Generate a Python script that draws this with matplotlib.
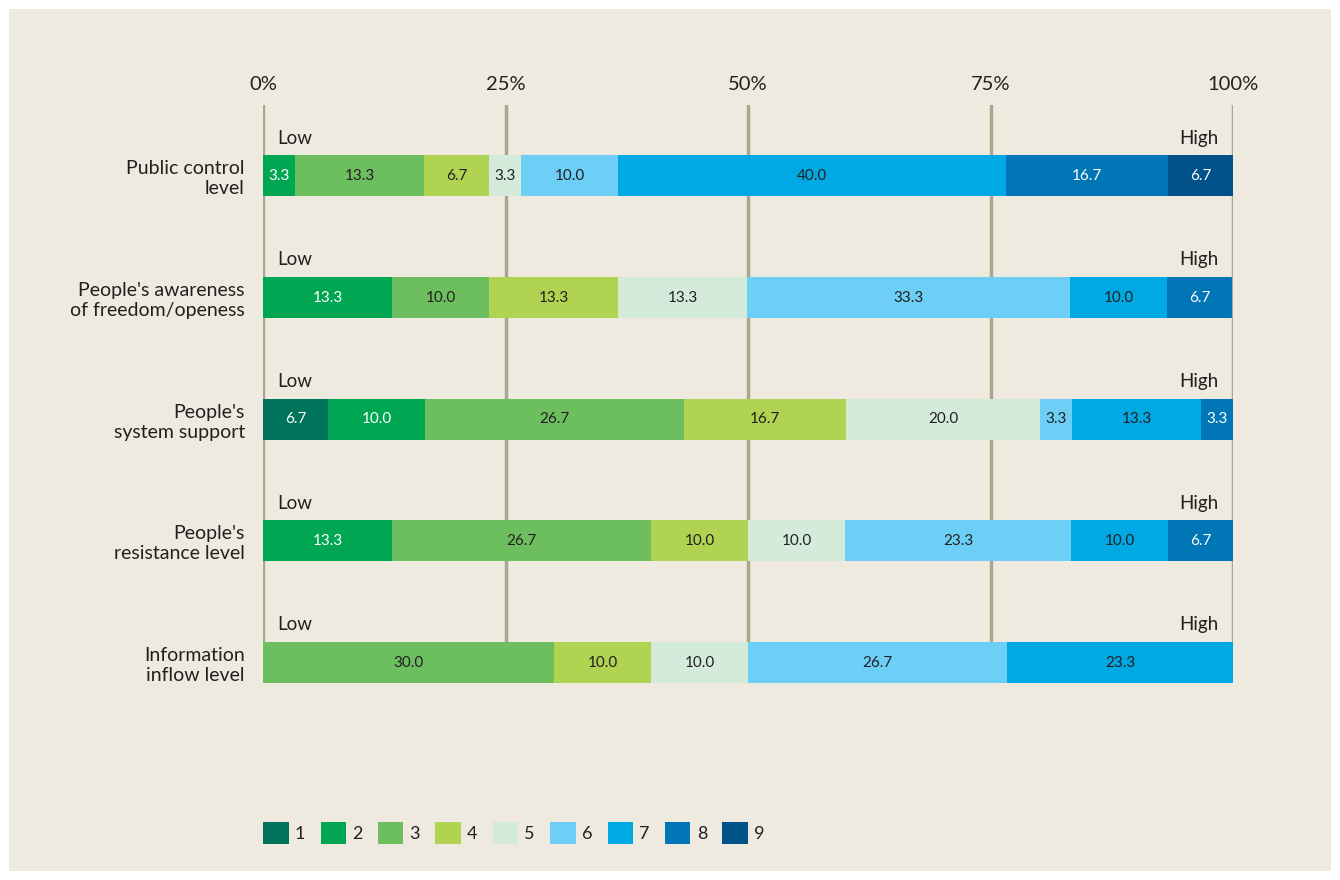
import numpy as np
import matplotlib
matplotlib.use("Agg")
import matplotlib.pyplot as plt
from matplotlib.patches import Rectangle, Patch

plt.rcParams['font.family'] = ['Lato', 'DejaVu Sans']

categories = ["Public control\nlevel",
              "People's awareness\nof freedom/openess",
              "People's\nsystem support",
              "People's\nresistance level",
              "Information\ninflow level"]
levels = ["1", "2", "3", "4", "5", "6", "7", "8", "9"]

# share (%) of each level 1..9 per question
public_control = [0, 3.3, 13.3, 6.7, 3.3, 10.0, 40.0, 16.7, 6.7]
awareness      = [0, 13.3, 10.0, 13.3, 13.3, 33.3, 10.0, 6.7, 0]
system_support = [6.7, 10.0, 26.7, 16.7, 20.0, 3.3, 13.3, 3.3, 0]
resistance     = [0, 13.3, 26.7, 10.0, 10.0, 23.3, 10.0, 6.7, 0]
info_inflow    = [0, 0, 30.0, 10.0, 10.0, 26.7, 23.3, 0, 0]
rows = [public_control, awareness, system_support, resistance, info_inflow]

colors = ["#00745a", "#00a651", "#6dbe5e", "#b1d352", "#d4ebdc",
          "#6dcff6", "#00a9e4", "#0076b7", "#005288"]
text_colors = ["white", "white", "#231f20", "#231f20", "#231f20",
               "#231f20", "#231f20", "white", "white"]
bg = "#eeeae0"
grid_col = "#aaa78c"
ink = "#231f20"

fig = plt.figure(figsize=(13.4, 8.8), dpi=100, facecolor="white")
# beige panel inside a thin white border
fig.patches.append(Rectangle((9/1340, 9/880), 1322/1340, 862/880,
                             transform=fig.transFigure, facecolor=bg,
                             edgecolor="none", zorder=-10))

ax = fig.add_axes([263/1340, 1 - 683/880, 970/1340, 578/880])
ax.set_facecolor("none")

ypos = np.arange(len(categories))
h = 0.337
for i, vals in enumerate(rows):
    left = 0.0
    for j, v in enumerate(vals):
        if v > 0:
            ax.barh(i, v, left=left, height=h, color=colors[j],
                    edgecolor="none", zorder=3)
            ax.text(left + v / 2, i, "%.1f" % v, ha="center", va="center",
                    fontsize=11, color=text_colors[j], zorder=4)
        left += v
    ax.text(1.45, i - 0.31, "Low", ha="left", va="center", fontsize=13.5, color=ink)
    ax.text(98.5, i - 0.31, "High", ha="right", va="center", fontsize=13.5, color=ink)

ax.set_xlim(0, 100)
ax.set_ylim(4 + h / 2, -0.583)
ax.set_xticks([0, 25, 50, 75, 100])
ax.set_xticklabels(["0%", "25%", "50%", "75%", "100%"])
ax.xaxis.tick_top()
ax.tick_params(axis="x", length=0, pad=9, labelsize=14.5, labelcolor=ink)
ax.set_yticks(ypos)
ax.set_yticklabels(categories, fontsize=14, color=ink, linespacing=1.2)
ax.tick_params(axis="y", length=0, pad=13)
for s in ax.spines.values():
    s.set_visible(False)
ax.grid(axis="x", color=grid_col, linewidth=2.5, zorder=1)
ax.set_axisbelow(True)

handles = [Patch(facecolor=c, edgecolor="none") for c in colors]
fig.legend(handles, levels, loc="center left", bbox_to_anchor=(247/1340, 1 - 833/880),
           ncol=9, frameon=False, fontsize=13, handlelength=1.4, handleheight=1.45,
           handletextpad=0.35, columnspacing=0.85, labelcolor=ink)

fig.savefig("out.png", dpi=100, facecolor="white")
